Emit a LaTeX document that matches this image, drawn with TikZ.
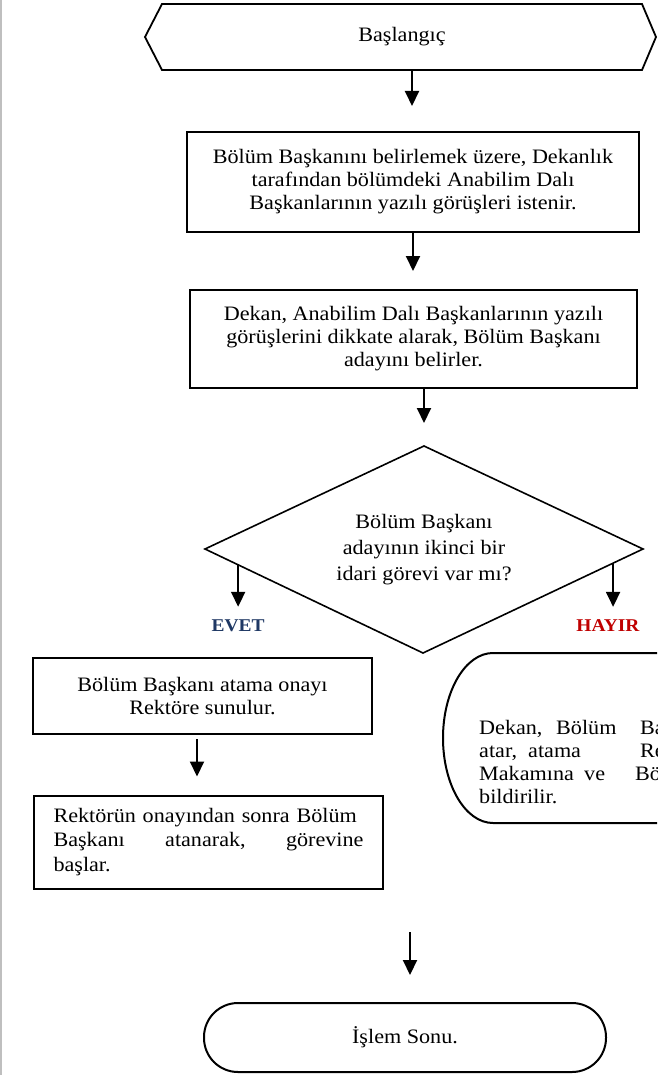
\documentclass[tikz,border=0pt]{standalone}
\usepackage{fontspec}
\setmainfont{Liberation Serif}[FakeStretch=1.08]
\usetikzlibrary{arrows.meta,shapes.geometric,calc}
\definecolor{evetblue}{RGB}{31,56,100}
\definecolor{hayirred}{RGB}{192,0,0}
\begin{document}
\begin{tikzpicture}[x=1pt,y=-1pt,
  every node/.style={font=\fontsize{20.5}{23}\selectfont, inner sep=0pt},
  procbox/.style={draw, line width=2pt, align=center},
  flowarrow/.style={line width=2pt, -{Triangle[width=14pt,length=15pt]}},
  outline/.style={draw, line width=1.8pt, line join=miter}
]
\useasboundingbox (0,0) rectangle (657,1075);
\clip (0,0) rectangle (657,1075);
\fill[white] (0,0) rectangle (657,1075);
\draw[black!25, line width=1.5pt] (0.75,0) -- (0.75,1075);

% start hexagon
\draw[outline] (162,4) -- (642,4) -- (656,37) -- (642,70) -- (162,70) -- (145,37) -- cycle;
\node[minimum width=480pt, minimum height=66pt] (start) at (402,37) {Başlangıç};

% box 1
\node[procbox, minimum width=452pt, minimum height=100pt] (b1) at (413,182)
  {Bölüm Başkanını belirlemek üzere, Dekanlık\\ tarafından bölümdeki Anabilim Dalı\\ Başkanlarının yazılı görüşleri istenir.};

% box 2
\node[procbox, minimum width=447pt, minimum height=98pt] (b2) at (413.5,339)
  {Dekan, Anabilim Dalı Başkanlarının yazılı\\ görüşlerini dikkate alarak, Bölüm Başkanı\\ adayını belirler.};

% decision
\coordinate (dtop) at (424,446);
\coordinate (dright) at (643,549);
\coordinate (dbot) at (423,653);
\coordinate (dleft) at (205,549);
\draw[line width=1.6pt, line join=miter] (dtop) -- (dright) -- (dbot) -- (dleft) -- cycle;
\node[font=\fontsize{20.5}{26}\selectfont, align=center] (dec) at (424,549.5)
  {Bölüm Başkanı\\ adayının ikinci bir\\ idari görevi var mı?};

% labels
\node[font=\fontsize{18}{22}\selectfont\bfseries, text=evetblue] (evet) at (238,626) {EVET};
\node[font=\fontsize{18}{22}\selectfont\bfseries, text=hayirred] (hayir) at (608,626) {HAYIR};

% box A
\node[procbox, minimum width=339pt, minimum height=76pt] (ba) at (202.5,696)
  {Bölüm Başkanı atama onayı\\ Rektöre sunulur.};

% box B
\node[draw, line width=2pt, minimum width=349pt, minimum height=93pt, text width=310pt,
      font=\fontsize{20.5}{24.5}\selectfont] (bb) at (208.5,842)
  {\hbox to 310pt{Rektörün onayından sonra Bölüm}\par
   \hbox to 310pt{Başkanı\hfill atanarak,\hfill görevine}\par
   \hbox{başlar.}};

% right box (clipped)
\draw[line width=2pt] (720,653) -- (493,653) arc[start angle=270, end angle=90, x radius=50, y radius=85] -- (720,823);
\coordinate (rb) at (560,738);
\node[anchor=base west] (r1a) at (479,734) {Dekan,};
\node[anchor=base west] (r1b) at (556,734) {Bölüm};
\node[anchor=base west] (r1c) at (640,734) {Ba};
\node[anchor=base west] (r2a) at (479,757) {atar,};
\node[anchor=base west] (r2b) at (528,757) {atama};
\node[anchor=base west] (r2c) at (640,757) {Re};
\node[anchor=base west] (r3a) at (479,780) {Makamına};
\node[anchor=base west] (r3b) at (584,780) {ve};
\node[anchor=base west] (r3c) at (635,780) {Bö};
\node[anchor=base west] (r4a) at (479,803) {bildirilir.};

% end terminal
\node[draw, line width=2pt, rounded corners=34pt, minimum width=402pt, minimum height=69pt] (end) at (405,1037.5) {İşlem Sonu.};
\coordinate (endtop) at (410,932);

% connectors
\coordinate (ev0) at ($(dleft)!0.152!(dbot)$);
\coordinate (hy0) at ($(dright)!0.136!(dbot)$);
\draw[flowarrow, shorten >=25pt] (start.south -| 412,0) -- (b1.north -| 412,0);
\draw[flowarrow, shorten >=18pt] (b1.south -| 413,0) -- (b2.north -| 413,0);
\draw[flowarrow, shorten >=23pt] (b2.south -| dtop) -- (dtop);
\draw[flowarrow, shorten >=13pt] (ev0) -- (ev0 |- evet.north);
\draw[flowarrow, shorten >=13pt] (hy0) -- (hy0 |- hayir.north);
\draw[flowarrow, shorten >=18pt, shorten <=4pt] (ba.south -| 197,0) -- (bb.north -| 197,0);
\draw[flowarrow, shorten >=27pt] (endtop) -- (end.north -| 410,0);
\end{tikzpicture}
\end{document}
